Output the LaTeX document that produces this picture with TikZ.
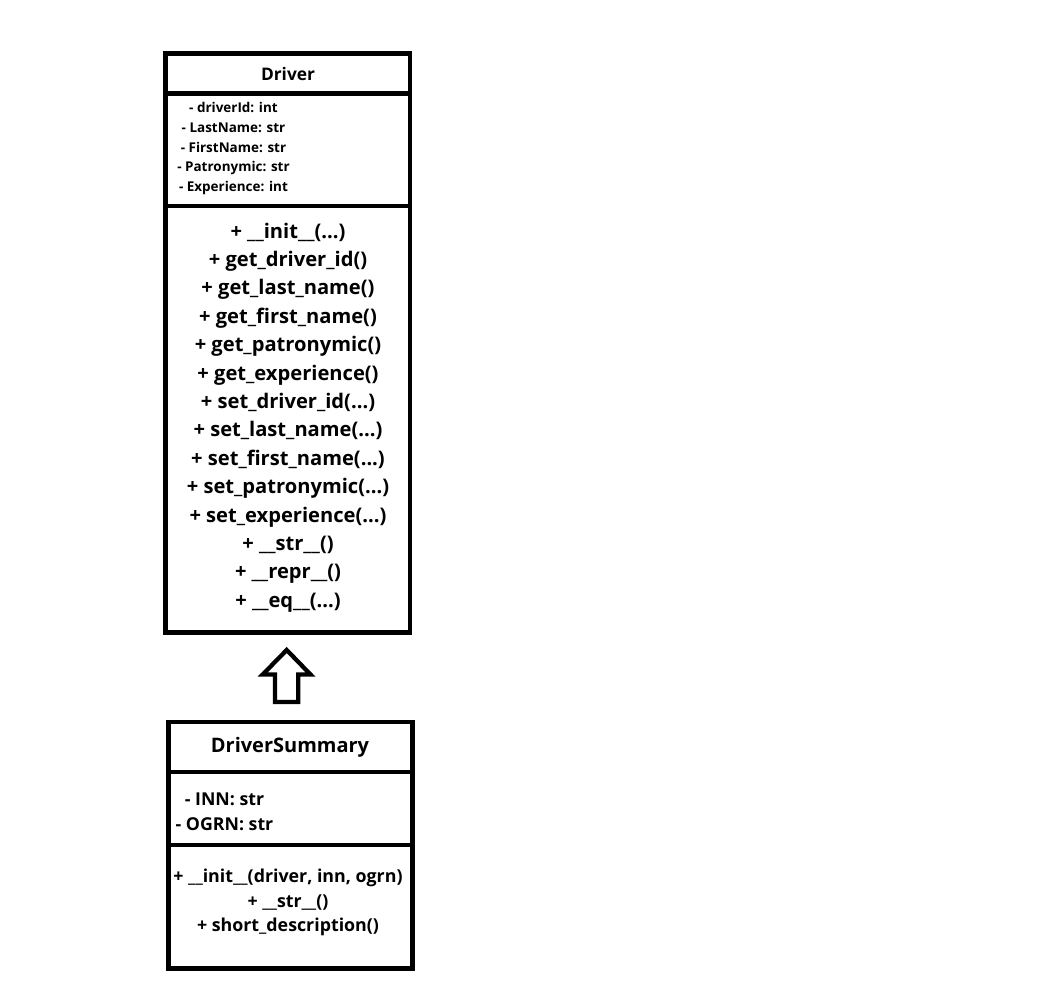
\documentclass[tikz,border=0pt]{standalone}
\usepackage{fontspec}
\setmainfont{Open Sans}
\usetikzlibrary{positioning, calc}
\tikzset{
	compart/.style  ={rectangle, draw=black, line width=3.4pt, outer sep=0pt, inner sep=0pt, fill=white},
	drvbox/.style   ={compart, minimum width=183.5pt},
	sumbox/.style   ={compart, minimum width=183pt},
	clsname/.style  ={font=\fontsize{13}{15}\selectfont\bfseries, inner sep=0pt},
	sclsname/.style ={font=\fontsize{15}{17}\selectfont\bfseries, inner sep=0pt},
	attrtxt/.style  ={font=\fontsize{10.1}{14.8}\selectfont\bfseries, align=center, inner sep=0pt},
	optxt/.style    ={font=\fontsize{15.1}{21.3}\selectfont\bfseries, align=center, inner sep=0pt},
	sattrtxt/.style ={font=\fontsize{13.3}{18.75}\selectfont\bfseries, align=center, inner sep=0pt},
	soptxt/.style   ={font=\fontsize{13.35}{18.4}\selectfont\bfseries, align=center, inner sep=0pt},
	inhline/.style  ={draw=black, line width=3.2pt, line join=miter, fill=white},
}

\begin{document}
\begin{tikzpicture}[x=0.75pt, y=-0.75pt]
	\useasboundingbox (0,0) rectangle (1043,986);
	% class Driver
	\node[drvbox, minimum height=30pt]    (drvName) at (287.7,73.5) {};
	\node[drvbox, minimum height=84.2pt]  (drvAttr) at (287.7,149.65) {};
	\node[drvbox, minimum height=320pt]   (drvOps)  at (287.7,419.15) {};
	\node[clsname] (drvNameTxt) at (288,74) {Driver};
	\node[attrtxt] (drvAttrTxt) at (233.5,148.5) {- driverId: int\\- LastName: str\\- FirstName: str\\- Patronymic: str\\- Experience: int};
	\node[optxt] (drvOpsTxt) at (288,417.5) {+ \_\_init\_\_(...)\\+ get\_driver\_id()\\+ get\_last\_name()\\+ get\_first\_name()\\+ get\_patronymic()\\+ get\_experience()\\+ set\_driver\_id(...)\\+ set\_last\_name(...)\\+ set\_first\_name(...)\\+ set\_patronymic(...)\\+ set\_experience(...)\\+ \_\_str\_\_()\\+ \_\_repr\_\_()\\+ \_\_eq\_\_(...)};
	% class DriverSummary
	\node[sumbox, minimum height=37.5pt]  (sumName) at (290.5,747) {};
	\node[sumbox, minimum height=54.9pt]  (sumAttr) at (290.5,808.6) {};
	\node[sumbox, minimum height=92.5pt]  (sumOps)  at (290.5,906.85) {};
	\node[sclsname] (sumNameTxt) at (290,747) {DriverSummary};
	\node[sattrtxt] (sumAttrTxt) at (224.5,811.5) {- INN: str\\- OGRN: str};
	\node[soptxt] (sumOpsTxt) at (288,902.5) {+ \_\_init\_\_(driver, inn, ogrn)\\+ \_\_str\_\_()\\+ short\_description()};
	% inheritance (hollow block arrow up to Driver)
	\coordinate (inhTip) at ($(drvOps.south)+(-1,17.5)$);
	\draw[inhline] (inhTip) -- ++(23.8,24.5) -- ++(-12.2,0) -- ++(0,27.5) -- ++(-23.3,0)
		-- ++(0,-27.5) -- ++(-12.3,0) -- cycle;
\end{tikzpicture}
\end{document}
